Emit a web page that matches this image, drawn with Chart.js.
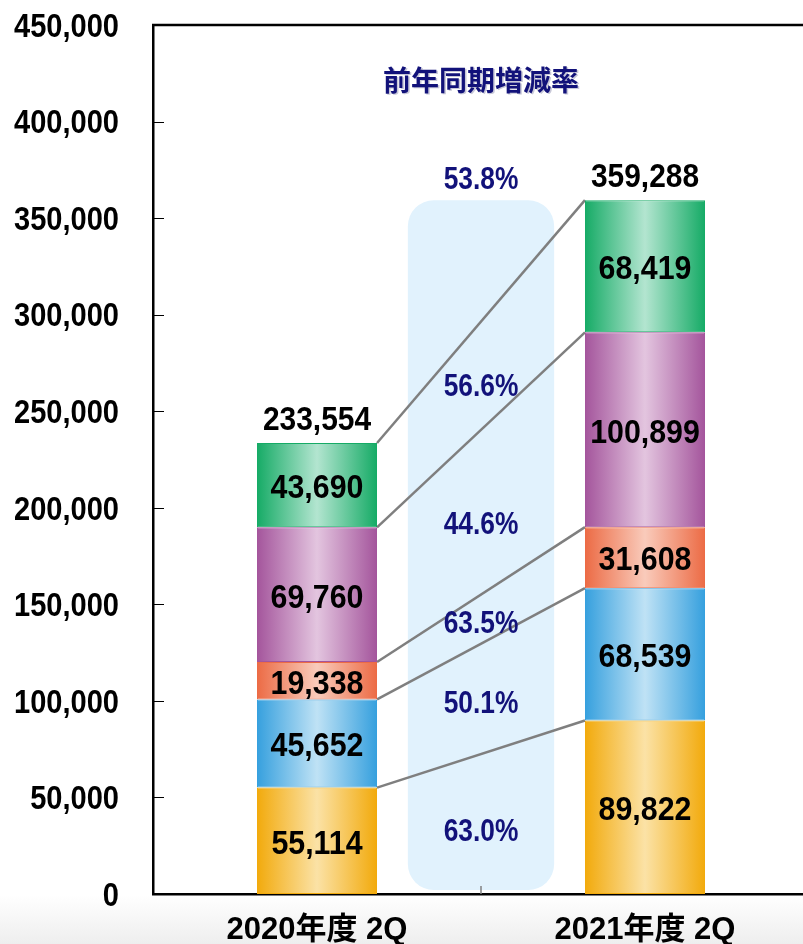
<!DOCTYPE html>
<html lang="ja">
<head>
<meta charset="utf-8">
<title>前年同期増減率</title>
<script src="https://cdn.jsdelivr.net/npm/chart.js@4.4.1/dist/chart.umd.min.js"></script>
<style>
  html, body { margin: 0; padding: 0; overflow: hidden; }
  body {
    width: 803px; height: 944px;
    background: linear-gradient(to bottom, #ffffff 0px, #ffffff 895px, #eeeeee 944px);
  }
  #chart { display: block; }
</style>
</head>
<body>
<canvas id="chart" width="809" height="944"></canvas>
<script>
// 期間
const categories = ['2020年度 2Q', '2021年度 2Q'];

// 積み上げの各区分（下から順）
const segOrange = [55114, 89822];
const segBlue = [45652, 68539];
const segRed = [19338, 31608];
const segPurple = [69760, 100899];
const segGreen = [43690, 68419];

// 合計
const totals = [233554, 359288];

// 前年同期増減率（区分ごと、下から順）と合計の増減率
const growthRates = ['63.0%', '50.1%', '63.5%', '44.6%', '56.6%'];
const totalGrowth = '53.8%';

// y軸
const yMin = 0;
const yMax = 450000;
const yStep = 50000;

const numFont = "'Liberation Sans', Arial, 'Noto Sans CJK JP', sans-serif";
const barShare = 0.366; // 棒の幅（カテゴリ幅に対する割合）
const rateNudge = [6, 3, 3, 11, 9]; // 増減率ラベルの縦の微調整(px)

// 横方向のグラデーション（端が濃く、中央が明るい）
function barFill(edge, light) {
    return function(context) {
        const xScale = context.chart.scales.x;
        if (!xScale || context.dataIndex === undefined) return edge;
        const cx = xScale.getPixelForValue(context.dataIndex);
        const catW = Math.abs(xScale.getPixelForValue(1) - xScale.getPixelForValue(0));
        const half = catW * barShare / 2;
        if (!isFinite(cx) || !isFinite(half) || half <= 0) return edge;
        const g = context.chart.ctx.createLinearGradient(cx - half, 0, cx + half, 0);
        g.addColorStop(0, edge);
        g.addColorStop(0.5, light);
        g.addColorStop(1, edge);
        return g;
    };
}

// 文字の縦中心(キャップハイト基準)を y に合わせ、横に詰めて描く
function drawLabel(ctx, text, x, y, size, sx, color, align) {
    ctx.save();
    ctx.translate(x, y + size * 0.358);
    ctx.scale(sx, 1);
    ctx.font = 'bold ' + size + 'px ' + numFont;
    ctx.fillStyle = color;
    ctx.textAlign = align || 'center';
    ctx.textBaseline = 'alphabetic';
    ctx.fillText(text, 0, 0);
    ctx.restore();
}

const palette = [
    { edge: '#f2aa0c', light: '#fbe2a6' },  // オレンジ
    { edge: '#36a0de', light: '#bfe2f5' },  // 青
    { edge: '#ec6b45', light: '#f9cbbb' },  // 赤
    { edge: '#a4559c', light: '#e3c5df' },  // 紫
    { edge: '#16ab66', light: '#b3e5d0' }   // 緑
];
const segments = [segOrange, segBlue, segRed, segPurple, segGreen];

const datasets = segments.map((values, i) => ({
    label: '区分' + (i + 1),
    data: values,
    backgroundColor: barFill(palette[i].edge, palette[i].light),
    borderColor: palette[i].edge,
    borderWidth: 1,
    borderSkipped: false,
    barPercentage: 1,
    categoryPercentage: barShare
}));

// 増減率の帯・接続線・ラベル
const overlayPlugin = {
    id: 'overlay',
    beforeDatasetsDraw(chart) {
        const { ctx, chartArea, scales: { x, y } } = chart;
        const mid = x.getPixelForValue(0.5);
        const catW = Math.abs(x.getPixelForValue(1) - x.getPixelForValue(0));
        const half = catW * 0.223;
        const top = y.getPixelForValue(totals[1]);
        const bottom = chartArea.bottom - 4;

        ctx.save();
        // 帯
        ctx.fillStyle = '#e1f2fd';
        ctx.beginPath();
        ctx.roundRect(mid - half, top, half * 2, bottom - top, 26);
        ctx.fill();

        // x軸の区切り目盛り
        ctx.strokeStyle = '#808080';
        ctx.lineWidth = 1.5;
        ctx.beginPath();
        ctx.moveTo(mid, chartArea.bottom);
        ctx.lineTo(mid, chartArea.bottom - 8);
        ctx.stroke();

        // y軸の内向き目盛り
        ctx.strokeStyle = '#000';
        ctx.lineWidth = 1;
        y.ticks.forEach(t => {
            if (t.value <= yMin || t.value >= yMax) return;
            const py = Math.round(y.getPixelForValue(t.value)) + 0.5;
            ctx.beginPath();
            ctx.moveTo(chartArea.left, py);
            ctx.lineTo(chartArea.left + 11, py);
            ctx.stroke();
        });

        // 上枠
        ctx.lineWidth = 2.5;
        ctx.beginPath();
        ctx.moveTo(chartArea.left - 1, chartArea.top);
        ctx.lineTo(chartArea.right, chartArea.top);
        ctx.stroke();

        // 区分の上端同士を結ぶ線
        ctx.strokeStyle = '#7f7f7f';
        ctx.lineWidth = 2.5;
        datasets.forEach((ds, i) => {
            const meta = chart.getDatasetMeta(i);
            const a = meta.data[0];
            const b = meta.data[1];
            ctx.beginPath();
            ctx.moveTo(a.x + a.width / 2, a.y);
            ctx.lineTo(b.x - b.width / 2, b.y);
            ctx.stroke();
        });
        ctx.restore();
    },
    afterDatasetsDraw(chart) {
        const { ctx, chartArea, scales: { x, y } } = chart;
        const mid = x.getPixelForValue(0.5);

        // y軸ラベル
        y.ticks.forEach(t => {
            drawLabel(ctx, t.value.toLocaleString('en-US'), chartArea.left - 34,
                y.getPixelForValue(t.value), 33, 0.88, '#000', 'right');
        });

        // x軸ラベル
        categories.forEach((c, i) => {
            ctx.save();
            ctx.font = "bold 31px 'Liberation Sans', 'Noto Sans CJK JP', sans-serif";
            ctx.fillStyle = '#000';
            ctx.textAlign = 'center';
            ctx.textBaseline = 'alphabetic';
            ctx.fillText(c, x.getPixelForValue(i), chartArea.bottom + 45);
            ctx.restore();
        });

        // 区分の値
        datasets.forEach((ds, i) => {
            chart.getDatasetMeta(i).data.forEach((el, j) => {
                const cy = (el.y + el.base) / 2;
                drawLabel(ctx, ds.data[j].toLocaleString('en-US'), el.x, cy + 1, 33, 0.92, '#000');
            });
        });

        // 合計
        const topMeta = chart.getDatasetMeta(datasets.length - 1);
        topMeta.data.forEach((el, j) => {
            drawLabel(ctx, totals[j].toLocaleString('en-US'), el.x, el.y - 25.5, 34, 0.88, '#000');
        });

        // 増減率
        datasets.forEach((ds, i) => {
            const meta = chart.getDatasetMeta(i);
            const c0 = (meta.data[0].y + meta.data[0].base) / 2;
            const c1 = (meta.data[1].y + meta.data[1].base) / 2;
            drawLabel(ctx, growthRates[i], mid, (c0 + c1) / 2 + rateNudge[i], 31, 0.85, '#12127a');
        });
        drawLabel(ctx, totalGrowth, mid, topMeta.data[1].y - 22, 31, 0.85, '#12127a');

        // 見出し
        ctx.save();
        ctx.textAlign = 'center';
        ctx.textBaseline = 'middle';
        ctx.font = "bold 28px 'Noto Sans CJK JP', sans-serif";
        ctx.fillStyle = '#c8c8d8';
        ctx.fillText('前年同期増減率', mid + 1.5, chartArea.top + 56.5);
        ctx.fillStyle = '#12127a';
        ctx.fillText('前年同期増減率', mid, chartArea.top + 55);
        ctx.restore();
    }
};

const ctx = document.getElementById('chart').getContext('2d');
new Chart(ctx, {
    type: 'bar',
    data: {
        labels: categories,
        datasets: datasets
    },
    options: {
        responsive: false,
        animation: false,
        layout: { padding: { top: 25, left: 0, right: 0, bottom: 0 } },
        plugins: {
            legend: { display: false },
            tooltip: { enabled: false }
        },
        scales: {
            x: {
                stacked: true,
                grid: { display: false, drawTicks: false },
                border: { color: '#000', width: 2.5 },
                ticks: { display: false },
                afterFit(scale) { scale.height = 50; }
            },
            y: {
                stacked: true,
                min: yMin,
                max: yMax,
                grid: { display: false, drawTicks: false },
                border: { color: '#000', width: 2.5 },
                ticks: { display: false, stepSize: yStep },
                afterFit(scale) { scale.width = 153; }
            }
        }
    },
    plugins: [overlayPlugin]
});
</script>
</body>
</html>
